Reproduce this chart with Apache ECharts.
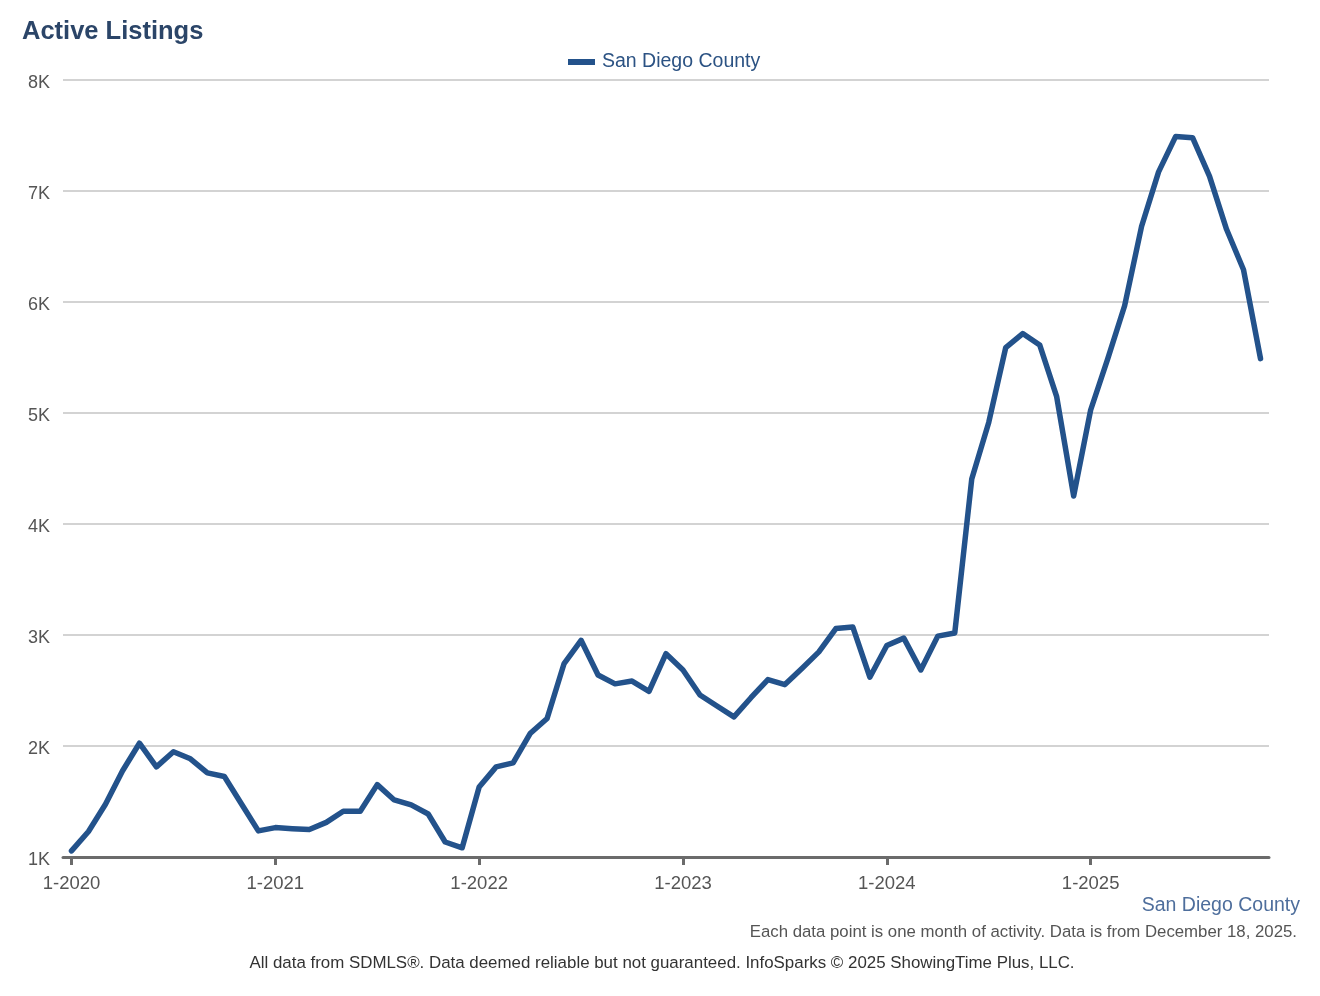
<!DOCTYPE html>
<html>
<head>
<meta charset="utf-8">
<script src="https://cdn.jsdelivr.net/npm/echarts@6/dist/echarts.min.js"></script>
<style>
html,body{margin:0;padding:0;background:#fff;}
#c{width:1320px;height:996px;}
</style>
</head>
<body>
<div id="c"></div>
<script>
const years = ['2020','2021','2022','2023','2024','2025'];
const categories = [];
years.forEach(y => { for (let m = 1; m <= 12; m++) categories.push(m + '-' + y); });
categories.length = 71; // Jan 2020 .. Nov 2025

const seriesName = 'San Diego County';
const values = [
  1055, 1230, 1475, 1775, 2025, 1812, 1948, 1885, 1758, 1725, 1480, 1235,
  1265, 1255, 1248, 1312, 1412, 1412, 1652, 1514, 1469, 1387, 1135, 1083,
  1630, 1812, 1848, 2112, 2248, 2743, 2952, 2640, 2560, 2585, 2492, 2832,
  2685, 2460, 2360, 2262, 2435, 2598, 2553, 2698, 2848, 3058, 3072, 2620,
  2905, 2972, 2685, 2990, 3018, 4405, 4915, 5588, 5716, 5613, 5147, 4252,
  5027, 5485, 5966, 6682, 7172, 7490, 7480, 7132, 6655, 6290, 5490
];
const yTicks = ['1K','2K','3K','4K','5K','6K','7K','8K'];

const FONT = '"Liberation Sans", Arial, sans-serif';
const chart = echarts.init(document.getElementById('c'), null, {renderer: 'canvas'});
chart.setOption({
  animation: false,
  textStyle: {fontFamily: FONT},
  title: [
    {text: 'Active Listings', left: 17, top: 14,
     textStyle: {fontFamily: FONT, fontSize: 25.5, fontWeight: 'bold', color: '#2b4568'}},
    {text: seriesName, right: 15, top: 891,
     textStyle: {fontFamily: FONT, fontSize: 19.5, fontWeight: 'normal', color: '#4e6e9c'}},
    {text: 'Each data point is one month of activity. Data is from December 18, 2025.', right: 18, top: 919,
     textStyle: {fontFamily: FONT, fontSize: 16.8, fontWeight: 'normal', color: '#555'}},
    {text: 'All data from SDMLS\u00AE. Data deemed reliable but not guaranteed. InfoSparks \u00A9 2025 ShowingTime Plus, LLC.',
     left: 657, textAlign: 'center', top: 950,
     textStyle: {fontFamily: FONT, fontSize: 16.9, fontWeight: 'normal', color: '#333'}}
  ],
  legend: {
    data: [seriesName], top: 47, left: 563,
    icon: 'rect', itemWidth: 27, itemHeight: 6, itemGap: 8,
    textStyle: {fontFamily: FONT, fontSize: 19.5, color: '#2b5283', padding: [0, 0, 0, 2]}
  },
  grid: {left: 63, right: 51, top: 80, bottom: 139, containLabel: false},
  xAxis: {
    type: 'category', data: categories, boundaryGap: true,
    axisLine: {lineStyle: {color: '#6b6b6b', width: 3}},
    axisTick: {show: true, alignWithLabel: true, length: 8, interval: (i) => i % 12 === 0,
               lineStyle: {color: '#6b6b6b', width: 3}},
    axisLabel: {interval: (i) => i % 12 === 0, fontSize: 18.5, color: '#555', margin: 17, fontFamily: FONT},
    splitLine: {show: false}
  },
  yAxis: {
    type: 'value', min: 1000, max: 8000, interval: 1000,
    axisLine: {show: false}, axisTick: {show: false},
    axisLabel: {margin: 13,
                formatter: (v) => '{a|' + yTicks[Math.round(v / 1000) - 1] + '}',
                rich: {a: {fontSize: 18, color: '#555', fontFamily: FONT, padding: [7, 0, 0, 0]}}},
    splitLine: {lineStyle: {color: '#c4c4c4', width: 1.5}}
  },
  series: [{
    name: seriesName, type: 'line', data: values,
    showSymbol: false, symbol: 'none',
    lineStyle: {color: '#23528b', width: 5.5, join: 'round', cap: 'round'},
    itemStyle: {color: '#23528b'}
  }]
});
</script>
</body>
</html>
